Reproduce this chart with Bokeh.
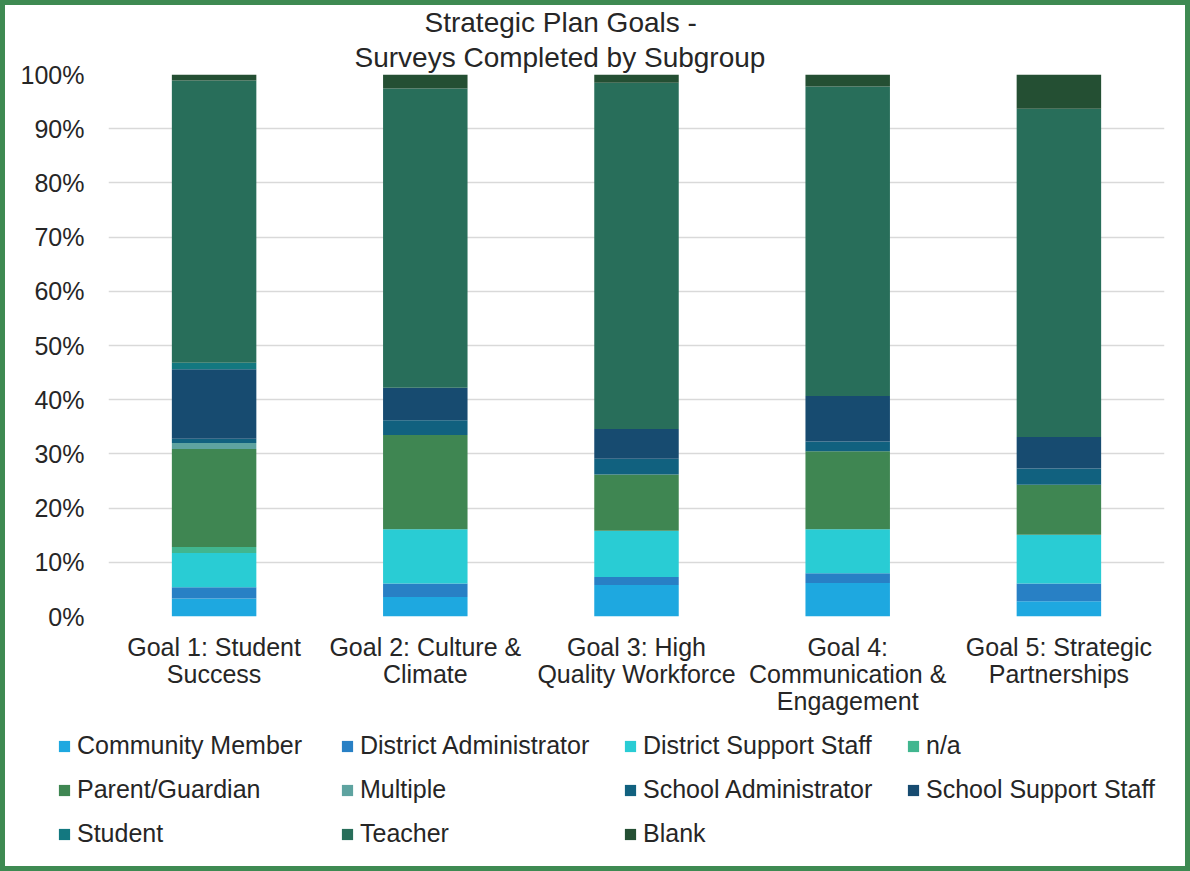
from bokeh.plotting import figure
from bokeh.layouts import column
from bokeh.models import (Legend, LegendItem, Title, NumeralTickFormatter,
                          Range1d, FixedTicker, ColumnDataSource)
from bokeh.embed import file_html
from bokeh.resources import INLINE

goals = ["Goal 1: Student\nSuccess",
         "Goal 2: Culture &\nClimate",
         "Goal 3: High\nQuality Workforce",
         "Goal 4:\nCommunication &\nEngagement",
         "Goal 5: Strategic\nPartnerships"]

series_names = ["Community Member", "District Administrator", "District Support Staff", "n/a",
                "Parent/Guardian", "Multiple", "School Administrator", "School Support Staff",
                "Student", "Teacher", "Blank"]

community_member = [3.3, 3.6, 5.8, 6.2, 2.8]
district_admin = [2.1, 2.5, 1.5, 1.8, 3.3]
district_support = [6.3, 10.0, 8.5, 8.1, 9.0]
n_a = [1.1, 0.0, 0.0, 0.0, 0.0]
parent_guardian = [18.1, 17.4, 10.4, 14.4, 9.2]
multiple = [1.1, 0.0, 0.0, 0.0, 0.0]
school_admin = [0.8, 2.7, 2.9, 1.8, 3.0]
school_support = [12.8, 6.0, 5.5, 8.4, 5.8]
student = [1.2, 0.0, 0.0, 0.0, 0.0]
teacher = [52.1, 55.2, 63.9, 57.1, 60.6]
blank = [1.1, 2.6, 1.5, 2.2, 6.3]

colors = ["#1EA8E0", "#2880C5", "#29CCD4", "#41B68F", "#3F8652", "#5EA3A0",
          "#11617F", "#174B70", "#137880", "#286E5A", "#244F33"]

all_series = [community_member, district_admin, district_support, n_a, parent_guardian,
              multiple, school_admin, school_support, student, teacher, blank]

keys = ["s%d" % i for i in range(len(all_series))]
data = {"goal": goals}
for k, s in zip(keys, all_series):
    data[k] = [v / 100.0 for v in s]
source = ColumnDataSource(data)

FONT = "Liberation Sans"
TXT = "#262626"
W = 1190
H_MAIN = 730
H_LEG = 141

p = figure(x_range=goals, y_range=Range1d(0, 1), width=W, height=H_MAIN,
           output_backend="svg", toolbar_location=None,
           min_border_left=108, min_border_right=26, min_border_top=74, min_border_bottom=114)
p.outline_line_color = None
p.background_fill_color = "white"
p.border_fill_alpha = 0
p.frame_align = False

renderers = p.vbar_stack(keys, x="goal", width=0.4, color=colors, line_color=None, source=source)

# axes
p.yaxis.ticker = FixedTicker(ticks=[i / 10 for i in range(11)])
p.yaxis.formatter = NumeralTickFormatter(format="0%")
for ax in (p.xaxis[0], p.yaxis[0]):
    ax.axis_line_color = None
    ax.major_tick_line_color = None
    ax.minor_tick_line_color = None
    ax.major_tick_in = 0
    ax.major_tick_out = 0
    ax.minor_tick_in = 0
    ax.minor_tick_out = 0
    ax.major_label_text_font = FONT
    ax.major_label_text_font_size = "25px"
    ax.major_label_text_color = TXT
p.yaxis.major_label_standoff = 24
p.xaxis.major_label_standoff = 16
p.xaxis.major_label_text_line_height = 0.97

p.xgrid.grid_line_color = None
p.ygrid.grid_line_color = "#D9D9D9"
p.ygrid.grid_line_width = 1.5

# title (two lines; the first added sits nearest the plot)
p.add_layout(Title(text="Surveys Completed by Subgroup", align="left", offset=246,
                   standoff=4, vertical_align="bottom", text_font=FONT,
                   text_font_size="28px", text_font_style="normal", text_color=TXT), "above")
p.add_layout(Title(text="Strategic Plan Goals -", align="left", offset=316,
                   standoff=0, vertical_align="bottom", text_font=FONT,
                   text_font_size="28px", text_font_style="normal", text_color=TXT), "above")

# legend strip: same stacked bars, kept out of its visible y-range, only their legend shows
pl = figure(x_range=p.x_range, y_range=Range1d(2, 3), width=W, height=H_LEG,
            output_backend="svg", toolbar_location=None,
            x_axis_location=None, y_axis_location=None,
            min_border_left=0, min_border_right=0, min_border_top=0, min_border_bottom=0)
pl.frame_align = False
pl.grid.visible = False
pl.outline_line_color = None
pl.background_fill_alpha = 0
pl.border_fill_alpha = 0
leg_renderers = pl.vbar_stack(keys, x="goal", width=0.4, color=colors, line_color=None,
                              source=source)

items = [LegendItem(label=n, renderers=[r]) for n, r in zip(series_names, leg_renderers)]
legend = Legend(items=items, location=(57, 23), orientation="horizontal", ncols=4,
                glyph_width=14, glyph_height=14, label_standoff=6, label_width=248,
                label_height=29, spacing=15, padding=0, margin=0,
                border_line_color=None, background_fill_alpha=0,
                label_text_font=FONT, label_text_font_size="25px", label_text_color=TXT)
pl.add_layout(legend)

layout = column(p, pl, spacing=0, width=W, height=H_MAIN + H_LEG)
layout.styles = {"box-shadow": "inset 0 0 0 5px #3E8A52", "background-color": "white"}

open("out.html", "w").write(file_html(layout, INLINE))
